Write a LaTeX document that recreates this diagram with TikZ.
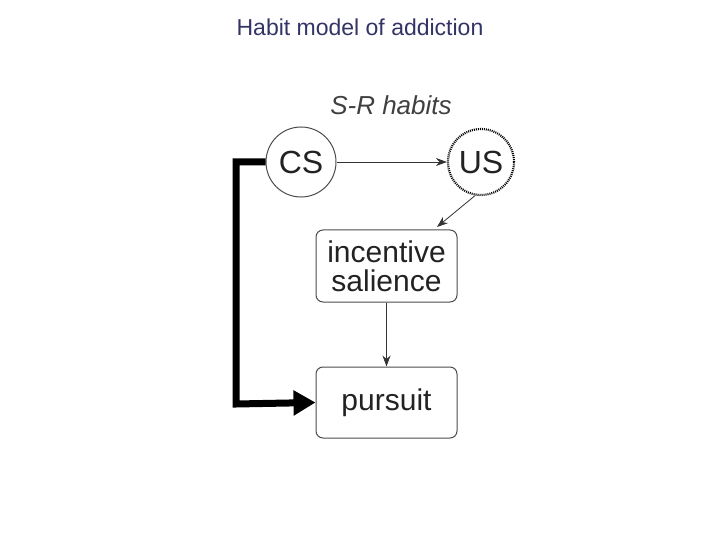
\documentclass[tikz,border=0pt]{standalone}
\usepackage{fontspec}
\setmainfont{Liberation Sans}
\usetikzlibrary{arrows.meta}
\definecolor{titlec}{HTML}{333366}
\definecolor{txt}{HTML}{222222}
\begin{document}
\begin{tikzpicture}[x=1pt,y=-1pt,
  circ/.style={circle,draw=black!70,line width=1pt,minimum size=70pt,inner sep=0pt,font=\fontsize{32}{32}\selectfont,text=txt},
  box/.style={rectangle,rounded corners=7pt,draw=black!70,line width=1pt,minimum width=141pt,minimum height=72pt,align=center,font=\fontsize{30}{32}\selectfont,text=txt},
  thin/.style={-{Stealth[length=11pt,width=8pt]},line width=0.8pt,black!80}]
\useasboundingbox (0,0) rectangle (720,540);
\node (title) at (360,27) {\textcolor{titlec}{\fontsize{23}{24}\selectfont Habit model of addiction}};
\node (sr) at (391,105) {\fontsize{26}{26}\selectfont\itshape\color{black!75}S-R habits};
\node[circ] (cs) at (301,162) {CS};
\node[circ,draw=black,densely dotted,line width=2.2pt,minimum size=66pt] (us) at (481,162) {US};
\node[box] (inc) at (386.5,266) {incentive\\[-3pt]salience};
\node[box,minimum height=71pt] (pur) at (386.5,402.5) {pursuit};
\coordinate (c1) at (437,227);
\draw[thin] (cs) -- (us);
\draw[thin] (us.-100) -- (c1);
\draw[thin] (inc.south) -- (pur.north);
\draw[line width=7pt,line join=miter,-{Triangle[length=22pt,width=24pt]}] (cs.west) -- (236,162) -- (236,404) -- (pur.west);
\end{tikzpicture}
\end{document}
